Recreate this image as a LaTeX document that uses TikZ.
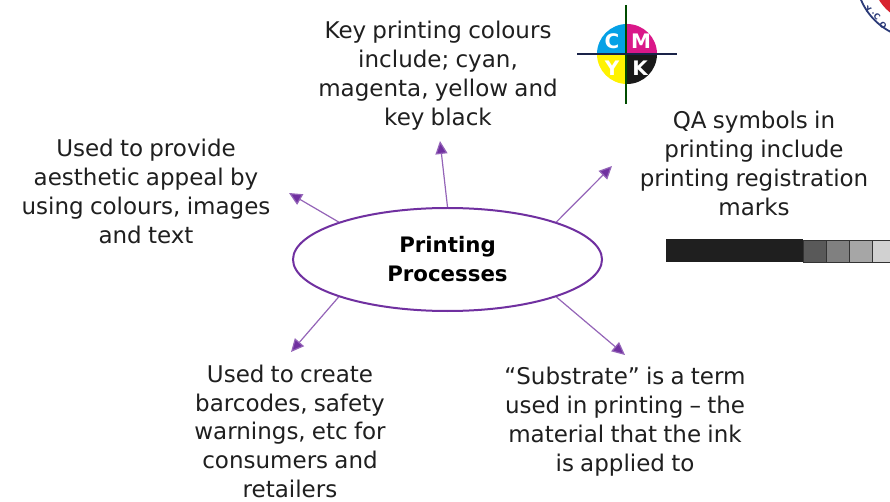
\documentclass[tikz,border=0pt]{standalone}
\usepackage{fontspec}
\setmainfont{DejaVu Sans}[WordSpace=0.85]
\usetikzlibrary{shapes.geometric,arrows.meta}
\definecolor{purp}{HTML}{7030A0}
\definecolor{navy}{HTML}{2B3A78}
\definecolor{sealred}{HTML}{D8232F}
\tikzset{
  body/.style={align=center,text=black!88,font=\fontsize{23}{29}\selectfont,inner sep=0pt},
  tight/.style={align=center,text=black!88,font=\fontsize{23}{28.6}\selectfont,inner sep=0pt},
  arr/.style={draw=purp!75,line width=1.2pt,-{Triangle[length=13pt,width=12pt,fill=purp]}},
  swatch/.style={draw=black!80,line width=0.9pt},
  letter/.style={text=white,font=\fontsize{20}{20}\selectfont\bfseries,inner sep=0pt},
  sealtext/.style={text=navy,font=\fontsize{8}{8}\selectfont\bfseries,inner sep=0pt}
}
\begin{document}
\begin{tikzpicture}[x=1pt,y=-1pt]
\useasboundingbox (0,0) rectangle (890,502);
\fill[white] (0,0) rectangle (890,502);
\begin{scope}
\clip (0,0) rectangle (890,502);
\fill[sealred] (920,-25) circle (48);
\draw[navy,line width=1.8pt] (920,-25) circle (64);
\node[sealtext,rotate=-32] (s1) at (868,10) {Y};
\fill[navy] (873,13) circle (0.8);
\node[sealtext,rotate=-45] (s3) at (877,17) {C};
\node[sealtext,rotate=-52] (s4) at (883,25) {O};
\end{scope}
% CMYK mark
\fill[cyan!90!blue] (627,54) -- (597,54) arc[start angle=180,end angle=270,radius=30] -- cycle;
\fill[magenta!90!black] (627,54) -- (627,24) arc[start angle=270,end angle=360,radius=30] -- cycle;
\fill[yellow] (627,54) -- (597,54) arc[start angle=180,end angle=90,radius=30] -- cycle;
\fill[black!90] (627,54) -- (657,54) arc[start angle=0,end angle=90,radius=30] -- cycle;
\draw[black!70!green,line width=2.4pt] (626,5) -- (626,104);
\draw[navy!60!black,line width=2.4pt] (577,54) -- (677,54);
\node[letter] (lc) at (612,41) {C};
\node[letter] (lm) at (641,41) {M};
\node[letter] (ly) at (612,68) {Y};
\node[letter] (lk) at (640,68) {K};
% gray bar
\fill[black!88] (666,239) rectangle (803,262);
\filldraw[swatch,fill=black!65] (803,240) rectangle (826,262);
\filldraw[swatch,fill=black!50] (826,240) rectangle (849,262);
\filldraw[swatch,fill=black!35] (849,240) rectangle (872,262);
\filldraw[swatch,fill=black!18] (872,240) rectangle (891,262);
% centre
\node[ellipse,draw=purp,line width=2pt,minimum width=309pt,minimum height=103pt,inner sep=0pt,fill=white,align=center,font=\fontsize{21.3}{29}\selectfont\bfseries] (main) at (447.5,259.5) {Printing\\Processes};
\node[body,anchor=north] (t1) at (438,21) {Key printing colours\\include; cyan,\\magenta, yellow and\\key black};
\node[body,anchor=north] (t2) at (146,139) {Used to provide\\aesthetic appeal by\\using colours, images\\and text};
\node[body,anchor=north] (t3) at (754,111) {QA symbols in\\printing include\\printing registration\\marks};
\node[tight,anchor=north] (t4) at (290,365) {Used to create\\barcodes, safety\\warnings, etc for\\consumers and\\retailers};
\node[body,anchor=north] (t5) at (625,367) {“Substrate” is a term\\used in printing – the\\material that the ink\\is applied to};
\coordinate (e1) at (440,141);
\coordinate (e2) at (612,166);
\coordinate (e3) at (289,193);
\coordinate (e4) at (291,352);
\coordinate (e5) at (625,355);
\draw[arr] (main.90) -- (e1);
\draw[arr] (main.19) -- (e2);
\draw[arr] (main.161) -- (e3);
\draw[arr] (main.199) -- (e4);
\draw[arr] (main.341) -- (e5);
\end{tikzpicture}
\end{document}
